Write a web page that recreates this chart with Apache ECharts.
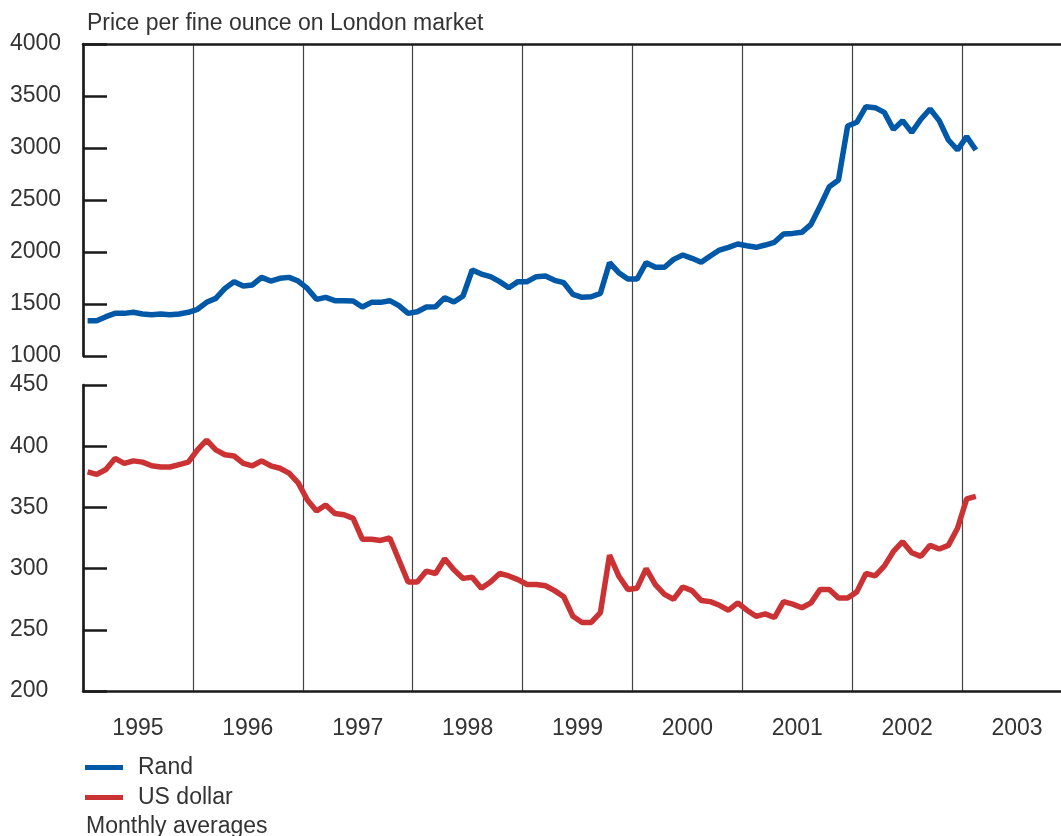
<!DOCTYPE html>
<html>
<head>
<meta charset="utf-8">
<title>Gold price</title>
<script src="https://cdn.jsdelivr.net/npm/echarts@6/dist/echarts.min.js"></script>
<style>
  html, body { margin: 0; padding: 0; background: #fff; }
  #chart { width: 1061px; height: 836px; }
</style>
</head>
<body>
<div id="chart"></div>
<script>
// monthly averages, Jan 1995 .. Feb 2003
const startYear = 1995
const yearLabels = ['1995', '1996', '1997', '1998', '1999', '2000', '2001', '2002', '2003']

const rand = [
  1339, 1339, 1378, 1410, 1410, 1420, 1404, 1397, 1404, 1397, 1404, 1420,
  1449, 1516, 1554, 1650, 1714, 1673, 1683, 1756, 1721, 1747, 1756, 1721,
  1650, 1545, 1564, 1532, 1532, 1529, 1471, 1516, 1516, 1532, 1484, 1410,
  1426, 1471, 1474, 1561, 1519, 1577, 1827, 1788, 1763, 1715, 1657, 1715,
  1715, 1763, 1769, 1728, 1705, 1593, 1564, 1570, 1602, 1897, 1801, 1740,
  1740, 1897, 1853, 1853, 1929, 1971, 1939, 1901, 1962, 2019, 2045, 2077,
  2060, 2045, 2067, 2093, 2173, 2179, 2189, 2266, 2442, 2628, 2692, 3212,
  3247, 3397, 3388, 3343, 3179, 3263, 3150, 3276, 3375, 3263, 3077, 2981,
  3109, 2981
]

const usDollar = [
  379, 377, 381, 390, 386, 388, 387, 384, 383, 383, 385, 387,
  397, 405, 397, 393, 392, 386, 384, 388, 384, 382, 378, 370,
  356, 347, 352, 345, 344, 341, 324, 324, 323, 325, 307, 289,
  289, 298, 296, 308, 299, 292, 293, 284, 289, 296, 294, 291,
  287, 287, 286, 282, 277, 261, 256, 256, 264, 311, 294, 283,
  284, 300, 287, 279, 275, 285, 282, 274, 273, 270, 266, 272,
  266, 261, 263, 260, 273, 271, 268, 272, 283, 283, 276, 276,
  281, 296, 294, 302, 314, 322, 313, 310, 319, 316, 319, 333,
  357, 359
]

const font = 'Liberation Sans, Arial, sans-serif'
const textColor = '#333'
const axisColor = '#1a1a1a'
const xMin = 1995
const xMax = 2003.9

// month index -> position in the middle of the month
const toPoints = arr => arr.map((v, i) => [startYear + (i + 0.5) / 12, v])

const yAxisStyle = (min, max, interval) => ({
  type: 'value',
  min, max, interval,
  axisLine: { show: true, lineStyle: { color: axisColor, width: 2.7 } },
  axisTick: { show: true, inside: true, length: 24, lineStyle: { color: axisColor, width: 2.5 } },
  axisLabel: {
    align: 'left', margin: 73, fontSize: 23, color: textColor, fontFamily: font,
    padding: [5, 0, 0, 0],
    formatter: v => String(v)
  },
  splitLine: { show: false }
})

const hiddenX = (gridIndex, extra) => Object.assign({
  gridIndex,
  type: 'value',
  min: xMin,
  max: xMax,
  axisLine: { show: false },
  axisTick: { show: false },
  axisLabel: { show: false },
  splitLine: { show: false }
}, extra)

const chart = echarts.init(document.getElementById('chart'), null, { renderer: 'canvas' })

const option = {
  animation: false,
  backgroundColor: '#fff',
  textStyle: { fontFamily: font },
  grid: [
    { left: 83, right: 0, top: 44, height: 312 },
    { left: 83, right: 0, top: 385, height: 306 },
    { left: 83, right: 0, top: 44, height: 647 }
  ],
  xAxis: [
    // top border of the rand panel
    hiddenX(0, { position: 'top', axisLine: { show: true, lineStyle: { color: axisColor, width: 2.5 } } }),
    // bottom axis line
    hiddenX(1, { position: 'bottom', axisLine: { show: true, lineStyle: { color: axisColor, width: 2.5 } } }),
    // year separators across both panels
    hiddenX(2, {
      interval: 1,
      splitLine: { show: true, showMinLine: false, showMaxLine: false, lineStyle: { color: '#444', width: 1.2 } }
    }),
    // year labels in the middle of each year
    hiddenX(1, {
      position: 'bottom',
      interval: 0.5,
      axisLabel: {
        show: true,
        margin: 26,
        fontSize: 23,
        color: textColor,
        fontFamily: font,
        showMinLabel: false,
        showMaxLabel: false,
        formatter: v => {
          const frac = v - Math.floor(v)
          if (Math.abs(frac - 0.5) > 0.01) return ''
          return yearLabels[Math.floor(v) - startYear] || ''
        }
      }
    })
  ],
  yAxis: [
    Object.assign(yAxisStyle(1000, 4000, 500), { gridIndex: 0 }),
    Object.assign(yAxisStyle(200, 450, 50), { gridIndex: 1 }),
    { gridIndex: 2, type: 'value', show: false, min: 0, max: 1 }
  ],
  legend: {
    data: ['Rand', 'US dollar'],
    orient: 'vertical',
    left: 85,
    top: 756,
    padding: 0,
    icon: 'rect',
    itemWidth: 38,
    itemHeight: 5,
    itemGap: 7,
    textStyle: { fontSize: 23, color: textColor, fontFamily: font, padding: [0, 0, 0, 10] }
  },
  graphic: [
    {
      type: 'text', left: 87, top: 12,
      style: { text: 'Price per fine ounce on London market', fontSize: 23, fill: textColor, fontFamily: font }
    },
    {
      type: 'text', left: 86, top: 815,
      style: { text: 'Monthly averages', fontSize: 23, fill: textColor, fontFamily: font }
    }
  ],
  series: [
    {
      name: 'Rand',
      type: 'line',
      xAxisIndex: 0,
      yAxisIndex: 0,
      data: toPoints(rand),
      showSymbol: false,
      color: '#0058a6',
      lineStyle: { width: 5.5, color: '#0058a6' }
    },
    {
      name: 'US dollar',
      type: 'line',
      xAxisIndex: 1,
      yAxisIndex: 1,
      data: toPoints(usDollar),
      showSymbol: false,
      color: '#cb3234',
      lineStyle: { width: 5.5, color: '#cb3234' }
    }
  ]
}

chart.setOption(option)
</script>
</body>
</html>
